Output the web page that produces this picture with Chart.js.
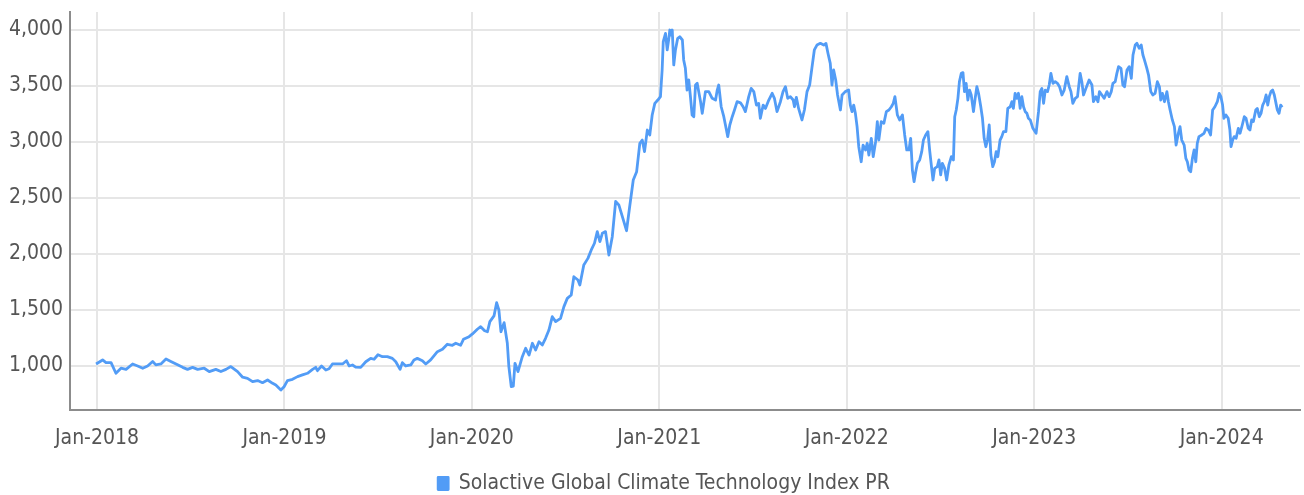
<!DOCTYPE html>
<html>
<head>
<meta charset="utf-8">
<script src="https://cdn.jsdelivr.net/npm/chart.js@4"></script>
<style>
  html, body { margin: 0; padding: 0; background: #fff; }
  #wrap { width: 1304px; height: 495px; }
</style>
</head>
<body>
<div id="wrap"><canvas id="c" width="1304" height="495"></canvas></div>
<script>
// Years since Jan-2018 (0 = Jan-2018, 1 = Jan-2019, ...)
const yearsSinceJan2018 = [
  -0.005,0.030,0.048,0.075,0.101,0.128,0.155,0.190,0.217,0.244,
  0.270,0.297,0.314,0.341,0.368,0.394,0.430,0.457,0.483,0.510,
  0.537,0.572,0.599,0.634,0.661,0.688,0.714,0.750,0.777,0.803,
  0.830,0.857,0.883,0.910,0.937,0.954,0.981,
  0.998,1.016,1.043,1.070,1.096,1.123,1.150,1.167,1.176,1.198,
  1.221,1.238,1.256,1.283,1.310,1.331,1.345,1.363,1.380,1.407,
  1.434,1.460,1.478,1.499,1.523,1.549,1.576,1.594,1.617,1.629,
  1.647,1.674,1.691,1.709,1.736,1.754,1.780,1.816,1.843,1.869,
  1.896,1.914,1.940,1.955,1.985,2.003,2.029,2.047,2.068,2.083,
  2.096,2.118,2.132,2.144,2.155,2.172,2.189,2.197,2.210,
  2.221,2.230,2.246,2.269,2.287,2.305,2.323,2.340,2.358,2.376,
  2.393,2.411,2.429,2.447,2.473,2.491,2.509,2.530,2.544,2.566,
  2.576,2.597,2.619,2.637,2.654,2.669,2.683,2.696,2.713,2.731,
  2.749,2.767,2.784,2.808,2.825,2.843,2.861,2.879,2.896,2.909,
  2.921,2.936,2.949,2.962,2.976,2.992,3.006,3.015,3.021,3.033,
  3.042,3.051,3.056,3.063,3.069,3.077,3.086,3.098,3.109,3.123,
  3.130,3.139,3.148,3.157,3.166,3.175,3.184,3.193,3.202,3.220,
  3.229,3.246,3.264,3.282,3.300,3.309,3.317,3.330,3.344,3.358,
  3.365,3.376,3.389,3.401,3.415,3.433,3.447,3.459,3.477,3.490,
  3.504,3.518,3.530,3.539,3.554,3.566,3.584,3.602,3.614,3.628,
  3.646,3.660,3.673,3.685,3.699,3.714,3.721,3.731,3.743,3.761,
  3.774,3.788,3.802,3.815,3.827,3.841,3.859,3.877,3.889,3.900,
  3.912,3.921,3.930,3.941,3.951,3.966,3.975,3.992,4.010,4.019,
  4.028,4.037,4.046,4.055,4.064,4.077,4.087,4.100,4.109,4.118,
  4.131,4.141,4.154,4.163,4.171,4.184,4.198,4.211,4.225,4.238,
  4.248,4.257,4.270,4.282,4.297,4.309,4.320,4.332,4.341,4.350,
  4.359,4.368,4.377,4.389,4.400,4.409,4.421,4.433,4.442,4.451,
  4.460,4.469,4.483,4.492,4.501,4.510,4.522,4.533,4.545,4.558,
  4.569,4.576,4.584,4.593,4.601,4.611,4.620,4.628,4.637,4.646,
  4.655,4.664,4.676,4.685,4.694,4.703,4.715,4.724,4.733,4.742,
  4.751,4.760,4.769,4.779,4.788,4.797,4.806,4.818,4.827,4.836,
  4.849,4.859,4.872,4.881,4.889,4.898,4.907,4.916,4.925,4.934,
  4.943,4.952,4.961,4.969,4.979,4.993,5.010,
  5.023,5.032,5.041,5.050,5.059,5.071,5.080,5.089,5.100,5.112,
  5.124,5.135,5.148,5.160,5.174,5.187,5.196,5.206,5.219,5.231,
  5.245,5.254,5.263,5.276,5.293,5.308,5.316,5.329,5.340,5.348,
  5.361,5.373,5.388,5.400,5.411,5.420,5.432,5.441,5.450,5.463,
  5.473,5.482,5.495,5.507,5.518,5.527,5.539,5.548,5.560,5.571,
  5.580,5.588,5.601,5.610,5.622,5.633,5.645,5.657,5.668,5.675,
  5.684,5.695,5.708,5.716,5.725,5.737,5.748,5.757,5.769,5.778,
  5.787,5.800,5.809,5.817,5.826,5.835,5.844,5.853,5.862,5.870,
  5.879,5.894,5.906,5.917,5.929,5.941,5.952,5.964,5.977,5.987,
  5.996,6.005,6.012,6.023,6.035,6.044,6.050,6.059,6.067,6.077,
  6.089,6.098,6.110,6.121,6.130,6.142,6.151,6.160,6.169,6.182,
  6.190,6.201,6.210,6.219,6.228,6.237,6.246,6.254,6.263,6.272,
  6.281,6.290,6.297,6.306,6.315,6.323
];

const indexValues = [
  1018,1054,1030,1030,935,980,970,1018,1000,980,
  1000,1040,1010,1018,1062,1040,1010,988,970,988,
  970,980,950,970,950,970,995,950,900,890,
  860,870,851,875,845,830,786,
  815,869,881,905,920,935,970,988,958,1000,
  964,975,1018,1018,1018,1047,1000,1009,990,988,
  1038,1068,1060,1100,1083,1083,1068,1038,970,1030,
  1000,1009,1054,1068,1047,1018,1054,1128,1149,1194,
  1185,1203,1185,1238,1262,1286,1328,1351,1315,1306,
  1396,1447,1565,1500,1306,1387,1205,1000,815,
  820,1024,950,1083,1158,1098,1203,1143,1217,1188,
  1247,1321,1440,1396,1426,1530,1604,1634,1797,1768,
  1723,1902,1961,2036,2096,2200,2110,2185,2200,1991,
  2155,2469,2438,2304,2208,2438,2661,2735,2989,3018,
  2914,3107,3063,3241,3345,3375,3405,3643,3896,3970,
  3822,3926,4000,3955,4000,3688,3822,3926,3940,3911,
  3733,3658,3464,3554,3405,3241,3226,3509,3524,3360,
  3256,3450,3450,3390,3375,3464,3509,3315,3226,3107,
  3048,3152,3226,3286,3360,3350,3315,3271,3405,3479,
  3450,3330,3345,3212,3330,3300,3375,3435,3390,3271,
  3360,3450,3494,3390,3405,3375,3315,3399,3300,3197,
  3286,3450,3509,3673,3822,3866,3881,3866,3881,3791,
  3702,3509,3643,3554,3420,3286,3420,3450,3464,3330,
  3271,3330,3256,3137,2958,2824,2973,2929,2989,2884,
  3033,2869,3003,3182,3018,3182,3167,3271,3286,3315,
  3345,3405,3241,3197,3241,3063,2929,2929,3033,2750,
  2646,2735,2810,2840,2914,3018,3063,3093,2929,2795,
  2661,2765,2780,2840,2706,2810,2765,2661,2795,2869,
  2840,3226,3286,3390,3539,3613,3620,3450,3524,3375,
  3464,3420,3271,3390,3494,3435,3315,3212,3033,2958,
  3018,3152,2884,2780,2824,2914,2869,3018,3048,3093,
  3093,3300,3315,3360,3300,3435,3390,3435,3300,3405,
  3315,3271,3256,3212,3197,3122,3078,
  3271,3450,3479,3345,3464,3450,3509,3613,3524,3539,
  3524,3494,3420,3464,3584,3494,3450,3345,3390,3405,
  3613,3539,3420,3479,3554,3509,3360,3405,3360,3450,
  3420,3390,3450,3405,3450,3524,3539,3613,3673,3658,
  3509,3494,3643,3673,3569,3777,3866,3881,3837,3866,
  3777,3733,3658,3598,3450,3420,3435,3539,3494,3375,
  3435,3360,3450,3360,3286,3197,3137,2973,3078,3137,
  3018,2973,2854,2824,2750,2735,2854,2929,2824,2989,
  3048,3063,3078,3122,3107,3063,3286,3315,3360,3435,
  3405,3330,3212,3241,3212,3107,2958,3018,3048,3033,
  3122,3078,3152,3226,3212,3122,3107,3197,3182,3286,
  3300,3226,3256,3330,3360,3420,3330,3405,3450,3464,
  3420,3345,3286,3256,3330,3310
];

const seriesName = 'Solactive Global Climate Technology Index PR';
const xTickYears = [0, 1, 2, 3, 4, 5, 6];
const xTickLabels = ['Jan-2018','Jan-2019','Jan-2020','Jan-2021','Jan-2022','Jan-2023','Jan-2024'];
const yTickValues = [1000, 1500, 2000, 2500, 3000, 3500, 4000];

const points = yearsSinceJan2018.map((t, i) => ({ x: t, y: indexValues[i] }));

Chart.defaults.font.family = "'DejaVu Sans Condensed', 'DejaVu Sans', sans-serif";
Chart.defaults.font.size = 21;
Chart.defaults.color = '#555';

const legendShift = {
  id: 'legendShift',
  afterLayout(chart) {
    const lg = chart.legend;
    if (!lg) return;
    lg.left += 14; lg.right += 14;
    lg.top += 9; lg.bottom += 9;
  }
};

new Chart(document.getElementById('c'), {
  type: 'line',
  data: {
    datasets: [{
      label: seriesName,
      data: points,
      borderColor: '#529cf6',
      backgroundColor: '#529cf6',
      borderWidth: 2.8,
      pointRadius: 0,
      tension: 0,
      borderJoinStyle: 'round'
    }]
  },
  plugins: [legendShift],
  options: {
    responsive: false,
    animation: false,
    layout: { padding: { top: 12, right: 4, left: 0, bottom: 0 } },
    plugins: {
      tooltip: { enabled: false },
      legend: {
        position: 'bottom',
        labels: {
          boxWidth: 10,
          boxHeight: 12,
          padding: 4,
          color: '#555',
          font: { size: 21 }
        }
      }
    },
    scales: {
      x: {
        type: 'linear',
        min: -0.144,
        max: 6.418,
        afterBuildTicks: (s) => { s.ticks = xTickYears.map(v => ({ value: v })); },
        afterFit: (s) => { s.height = 50; s.paddingLeft = 0; s.paddingRight = 0; },
        ticks: {
          autoSkip: false,
          maxRotation: 0,
          padding: 16,
          color: '#555',
          callback: (v) => xTickLabels[xTickYears.indexOf(v)]
        },
        grid: { color: '#e6e6e6', lineWidth: 2, drawTicks: false },
        border: { display: true, color: '#8c8c8c', width: 2 }
      },
      y: {
        min: 607,
        max: 4161,
        afterBuildTicks: (s) => { s.ticks = yTickValues.map(v => ({ value: v })); },
        afterFit: (s) => { s.width = 70; s.paddingTop = 0; s.paddingBottom = 0; },
        ticks: {
          padding: 7,
          color: '#555',
          callback: (v) => v.toLocaleString('en-US')
        },
        grid: { color: '#e6e6e6', lineWidth: 2, drawTicks: false },
        border: { display: true, color: '#8c8c8c', width: 2 }
      }
    }
  }
});
</script>
</body>
</html>
